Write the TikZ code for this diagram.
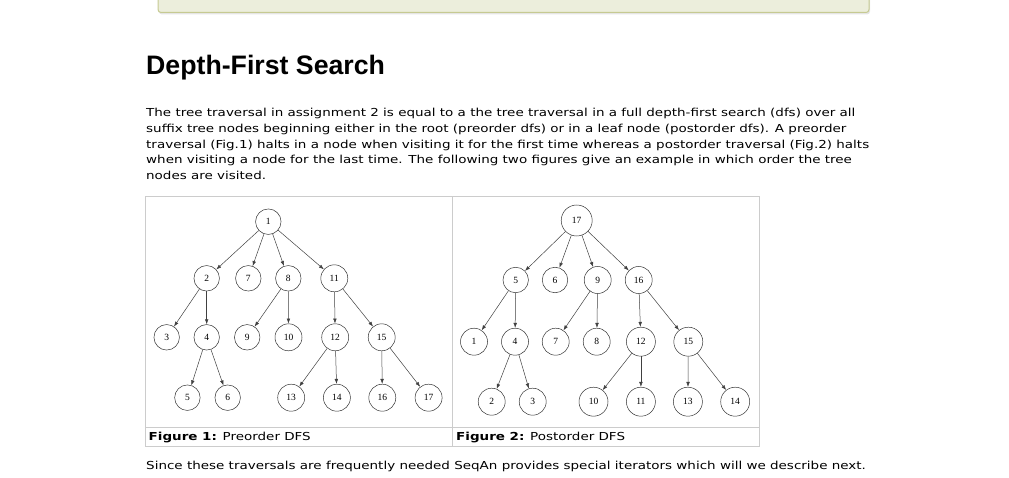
\documentclass[tikz,border=0pt]{standalone}
\usepackage{fontspec}
\setmainfont[FakeStretch=1.225]{DejaVu Sans}
\newfontfamily\headfont{Liberation Sans}
\newfontfamily\treefont{Liberation Serif}
\usetikzlibrary{arrows.meta}
\definecolor{boxfill}{HTML}{ECEEDC}
\definecolor{boxline}{HTML}{C6CA92}
\definecolor{gridline}{HTML}{CCCCCC}
\tikzset{
  tn/.style={circle, draw=black!80, line width=0.5pt, inner sep=0pt,
    minimum size=25.5pt, font=\treefont\fontsize{9.5}{9.5}\selectfont},
  tnm/.style={tn, minimum size=27pt},
  tnl/.style={tn, minimum size=29pt},
  tnroot/.style={tn, minimum size=31pt},
  edge/.style={draw=black!75, line width=0.5pt, -{Latex[length=5pt,width=3.6pt]}},
  txt/.style={anchor=base west, inner sep=0pt, font=\fontsize{11}{13}\selectfont},
  figcaption/.style={txt},
}
\begin{document}
\begin{tikzpicture}[x=1pt,y=-1pt]
\useasboundingbox (0,0) rectangle (1009,478);
\clip (0,0) rectangle (1009,478);

% note box at the top of the page
\fill[black!10, rounded corners=3pt] (159,-10) rectangle (870,14.5);
\draw[fill=boxfill, draw=boxline, line width=1pt, rounded corners=3pt] (158,-10) rectangle (869,12.5);

% heading
\node[anchor=base west, inner sep=0pt, font=\headfont\bfseries\fontsize{26.7}{30}\selectfont] (head) at (146,74.5) {Depth-First Search};

% paragraph
\node[txt] (p1) at (146,116.6) {The tree traversal in assignment 2 is equal to a the tree traversal in a full depth-first search (dfs) over all};
\node[txt] (p2) at (146,132.4) {suffix tree nodes beginning either in the root (preorder dfs) or in a leaf node (postorder dfs). A preorder};
\node[txt] (p3) at (146,148.2) {traversal (Fig.1) halts in a node when visiting it for the first time whereas a postorder traversal (Fig.2) halts};
\node[txt] (p4) at (146,164.0) {when visiting a node for the last time. The following two figures give an example in which order the tree};
\node[txt] (p5) at (146,179.8) {nodes are visited.};

% figure table
\draw[gridline, line width=1pt] (145,197) rectangle (759.5,446);
\draw[gridline, line width=1pt] (452.5,197) -- (452.5,446);
\draw[gridline, line width=1pt] (145,427) -- (759.5,427);

\node[figcaption] (c1) at (148.5,440) {\textbf{Figure 1:} Preorder DFS};
\node[figcaption] (c2) at (456,440) {\textbf{Figure 2:} Postorder DFS};

% preorder tree
\node[tn] (L1) at (268.3,221.7) {1};
\node[tn] (L2) at (206.7,278.3) {2};
\node[tn] (L7) at (248.3,278.3) {7};
\node[tn] (L8) at (288.3,278.3) {8};
\node[tnm] (L11) at (334.3,278.3) {11};
\node[tn] (L3) at (166.7,337.3) {3};
\node[tn] (L4) at (206.7,337.3) {4};
\node[tn] (L9) at (247.2,337.3) {9};
\node[tnm] (L10) at (288.5,337.3) {10};
\node[tnm] (L12) at (335.2,337.3) {12};
\node[tnm] (L15) at (381.7,337.3) {15};
\node[tn] (L5) at (187.4,397.7) {5};
\node[tn] (L6) at (227.7,397.7) {6};
\node[tnm] (L13) at (291.2,397.7) {13};
\node[tnm] (L14) at (336.9,397.7) {14};
\node[tnm] (L16) at (382.3,397.7) {16};
\node[tnm] (L17) at (428.6,397.7) {17};

\foreach \a/\b in {1/2,1/7,1/8,1/11,2/3,2/4,4/5,4/6,8/9,8/10,11/12,11/15,12/13,12/14,15/16,15/17}
  \draw[edge] (L\a) -- (L\b);

% postorder tree
\node[tnroot] (R17) at (576.7,220.5) {17};
\node[tn] (R5) at (515.7,280) {5};
\node[tn] (R6) at (555,280) {6};
\node[tnm] (R9) at (597.7,280) {9};
\node[tnm] (R16) at (638.7,280) {16};
\node[tnm] (R1) at (474,341.7) {1};
\node[tnm] (R4) at (515,341.7) {4};
\node[tnm] (R7) at (555.7,341.7) {7};
\node[tnm] (R8) at (596.7,341.7) {8};
\node[tnl] (R12) at (640.9,341.7) {12};
\node[tnl] (R15) at (688.3,341.7) {15};
\node[tnm] (R2) at (491.7,401.7) {2};
\node[tnm] (R3) at (532.7,401.7) {3};
\node[tnl] (R10) at (593.5,401.7) {10};
\node[tnl] (R11) at (640.9,401.7) {11};
\node[tnl] (R13) at (687.9,401.7) {13};
\node[tnl] (R14) at (735.2,401.7) {14};

\foreach \a/\b in {17/5,17/6,17/9,17/16,5/1,5/4,4/2,4/3,9/7,9/8,16/12,16/15,12/10,12/11,15/13,15/14}
  \draw[edge] (R\a) -- (R\b);

% closing sentence
\node[txt] (p6) at (146,469.5) {Since these traversals are frequently needed SeqAn provides special iterators which will we describe next.};
\end{tikzpicture}
\end{document}
